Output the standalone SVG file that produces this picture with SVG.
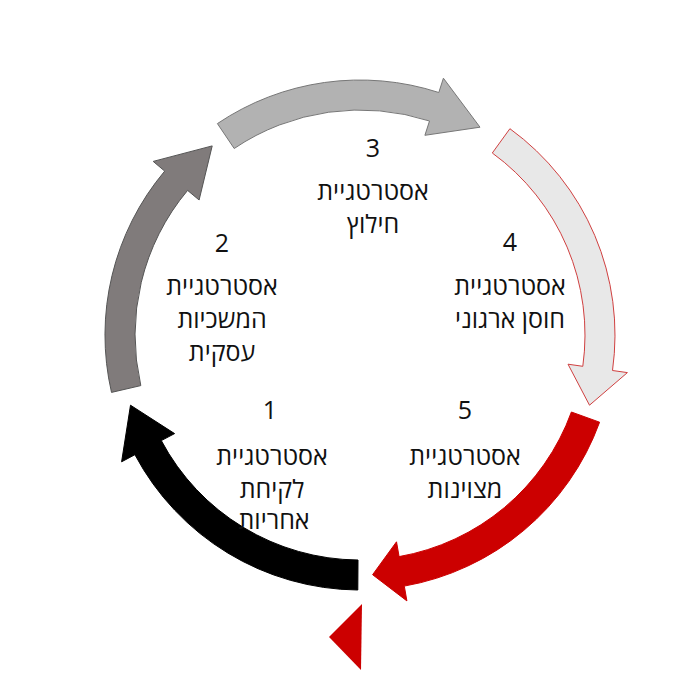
<svg xmlns="http://www.w3.org/2000/svg" width="700" height="700" viewBox="0 0 700 700">
<style>
text{font-family:"Open Sans","Noto Sans",sans-serif;font-size:25px;fill:#111;text-anchor:middle}
.arr{stroke-width:1}
</style>
<rect width="700" height="700" fill="#fff"/>
<g id="connectors">
<path id="a1" class="arr" fill="#000" stroke="#000" d="M357.8,590 A255,255 0 0 1 134.9,454.7 L121.6,461.8 L130.5,405.2 L174.6,433.6 L161.3,440.6 A225,225 0 0 0 358,560 Z"/>
<path id="a2" class="arr" fill="#807b7b" stroke="#555" d="M111.5,392.4 A255,255 0 0 1 164.7,171.1 L153.2,161.4 L212.2,145.9 L199.1,200 L187.6,190.4 A225,225 0 0 0 140.8,385.6 Z"/>
<path id="a3" class="arr" fill="#b2b2b2" stroke="#777" d="M217.4,123.6 A255,255 0 0 1 438.8,92.5 L443.4,78.2 L480,127.2 L424.9,135.3 L429.5,121 A225,225 0 0 0 234.2,148.5 Z"/>
<path id="a4" class="arr" fill="#e8e8e8" stroke="#d04040" d="M509.9,128.7 A255,255 0 0 1 612.5,370.5 L627.4,372.6 L589.5,405.2 L568,364.2 L582.8,366.3 A225,225 0 0 0 492.3,153 Z"/>
<path id="a5" class="arr" fill="#cc0000" stroke="#cc0000" d="M599.6,422.2 A255,255 0 0 1 404.3,586.1 L406.9,600.9 L372.6,574.7 L396.5,541.8 L399.1,556.6 A225,225 0 0 0 571.4,412 Z"/>
<polygon fill="#cc0000" points="362,604 329,637 361,670"/>
</g>
<g id="n3"><text x="373" y="157">3</text><text x="373" y="200">אסטרטגיית</text><text x="373" y="233">חילוץ</text></g>
<g id="n2"><text x="222" y="252">2</text><text x="222" y="295">אסטרטגיית</text><text x="222" y="328">המשכיות</text><text x="222" y="361">עסקית</text></g>
<g id="n4"><text x="510" y="251">4</text><text x="510" y="295">אסטרטגיית</text><text x="510" y="328">חוסן ארגוני</text></g>
<g id="n1"><text x="270" y="419">1</text><text x="272" y="465">אסטרטגיית</text><text x="272" y="498">לקיחת</text><text x="274" y="529">אחריות</text></g>
<g id="n5"><text x="465" y="419">5</text><text x="465" y="465">אסטרטגיית</text><text x="465" y="498">מצוינות</text></g>
</svg>
